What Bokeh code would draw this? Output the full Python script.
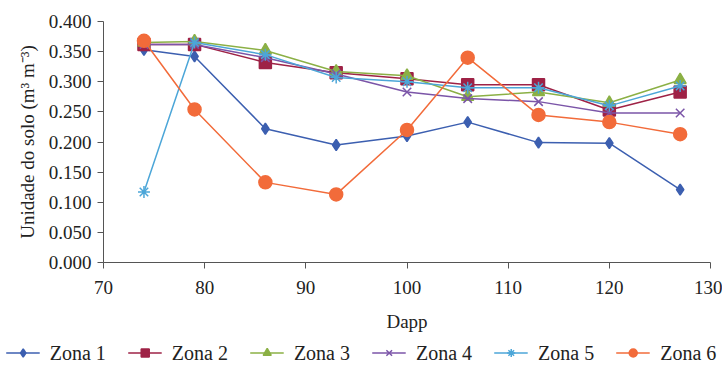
from bokeh.plotting import figure
from bokeh.models import Legend, LegendItem, FixedTicker, NumeralTickFormatter, Range1d
from bokeh.layouts import column
from bokeh.embed import file_html
from bokeh.resources import INLINE

dapp = [74, 79, 86, 93, 100, 106, 113, 120, 127]
zona1 = [0.353, 0.342, 0.222, 0.195, 0.210, 0.233, 0.199, 0.198, 0.121]
zona2 = [0.362, 0.362, 0.332, 0.315, 0.305, 0.295, 0.295, 0.253, 0.283]
zona3 = [0.365, 0.367, 0.352, 0.317, 0.310, 0.275, 0.283, 0.265, 0.303]
zona4 = [0.362, 0.362, 0.340, 0.313, 0.283, 0.272, 0.267, 0.248, 0.248]
zona5 = [0.117, 0.365, 0.345, 0.307, 0.300, 0.290, 0.290, 0.260, 0.293]
zona6 = [0.368, 0.254, 0.133, 0.113, 0.220, 0.340, 0.245, 0.233, 0.213]
names = ["Zona 1", "Zona 2", "Zona 3", "Zona 4", "Zona 5", "Zona 6"]
x_ticks = [70, 80, 90, 100, 110, 120, 130]
y_ticks = [0.0, 0.05, 0.1, 0.15, 0.2, 0.25, 0.3, 0.35, 0.4]

FONT = "Liberation Serif"
TEXT = "#222222"

p = figure(width=722, height=338, output_backend="svg", toolbar_location=None,
           x_range=Range1d(70, 130), y_range=Range1d(0, 0.4),
           min_border_left=103, min_border_right=12, min_border_top=21, min_border_bottom=76)
p.frame_align = False
p.grid.visible = False
p.outline_line_color = None

series = [zona1, zona2, zona3, zona4, zona5, zona6]
colors = ["#3C5FB0", "#9E2246", "#8BB045", "#7B55A8", "#4CA6D8", "#F26B3A"]
markers = ["diamond", "square", "triangle", "x", "asterisk", "circle"]
sizes = [11, 12, 12, 12, 12, 13]

for ys, c, m, s in zip(series, colors, markers, sizes):
    p.line(dapp, ys, line_color=c, line_width=1.5)
    p.scatter(dapp, ys, marker=m, size=s, fill_color=c, line_color=c, line_width=1.5)

p.xaxis.ticker = FixedTicker(ticks=x_ticks)
p.yaxis.ticker = FixedTicker(ticks=y_ticks)
p.yaxis.formatter = NumeralTickFormatter(format="0.000")
p.xaxis.axis_label = "Dapp"
p.yaxis.axis_label = "Unidade do solo (m³ m⁻³)"
for ax in (p.xaxis, p.yaxis):
    ax.axis_line_color = "#555555"
    ax.major_tick_line_color = "#555555"
    ax.minor_tick_line_color = None
    ax.major_tick_in = 0
    ax.major_tick_out = 6
    ax.major_label_text_font = FONT
    ax.major_label_text_font_size = "19px"
    ax.major_label_text_color = TEXT
    ax.axis_label_text_font = FONT
    ax.axis_label_text_font_size = "19px"
    ax.axis_label_text_font_style = "normal"
    ax.axis_label_text_color = TEXT
p.xaxis.major_label_standoff = 12
p.xaxis.axis_label_standoff = 14
p.yaxis.major_label_standoff = 6
p.yaxis.axis_label_standoff = 8

# separate strip that carries the legend below the chart (its series lie outside its view)
lg = figure(width=722, height=29, output_backend="svg", toolbar_location=None,
            x_range=Range1d(0, 1), y_range=Range1d(0, 1), x_axis_type=None, y_axis_type=None,
            min_border=0)
lg.frame_align = False
lg.grid.visible = False
lg.outline_line_color = None
items = []
for name, ys, c, m, s in zip(names, series, colors, markers, sizes):
    r1 = lg.line(dapp, ys, line_color=c, line_width=1.5)
    r2 = lg.scatter(dapp, ys, marker=m, size=s - 2, fill_color=c, line_color=c, line_width=1.5)
    items.append(LegendItem(label=name, renderers=[r1, r2]))
legend = Legend(items=items, orientation="horizontal", location="center",
                label_text_font=FONT, label_text_font_size="20px", label_text_color=TEXT,
                glyph_width=34, glyph_height=20, spacing=22, label_standoff=10,
                border_line_color=None, padding=0, margin=0, background_fill_alpha=0)
lg.add_layout(legend, "center")

open("out.html", "w").write(file_html(column(p, lg, spacing=0), INLINE))
